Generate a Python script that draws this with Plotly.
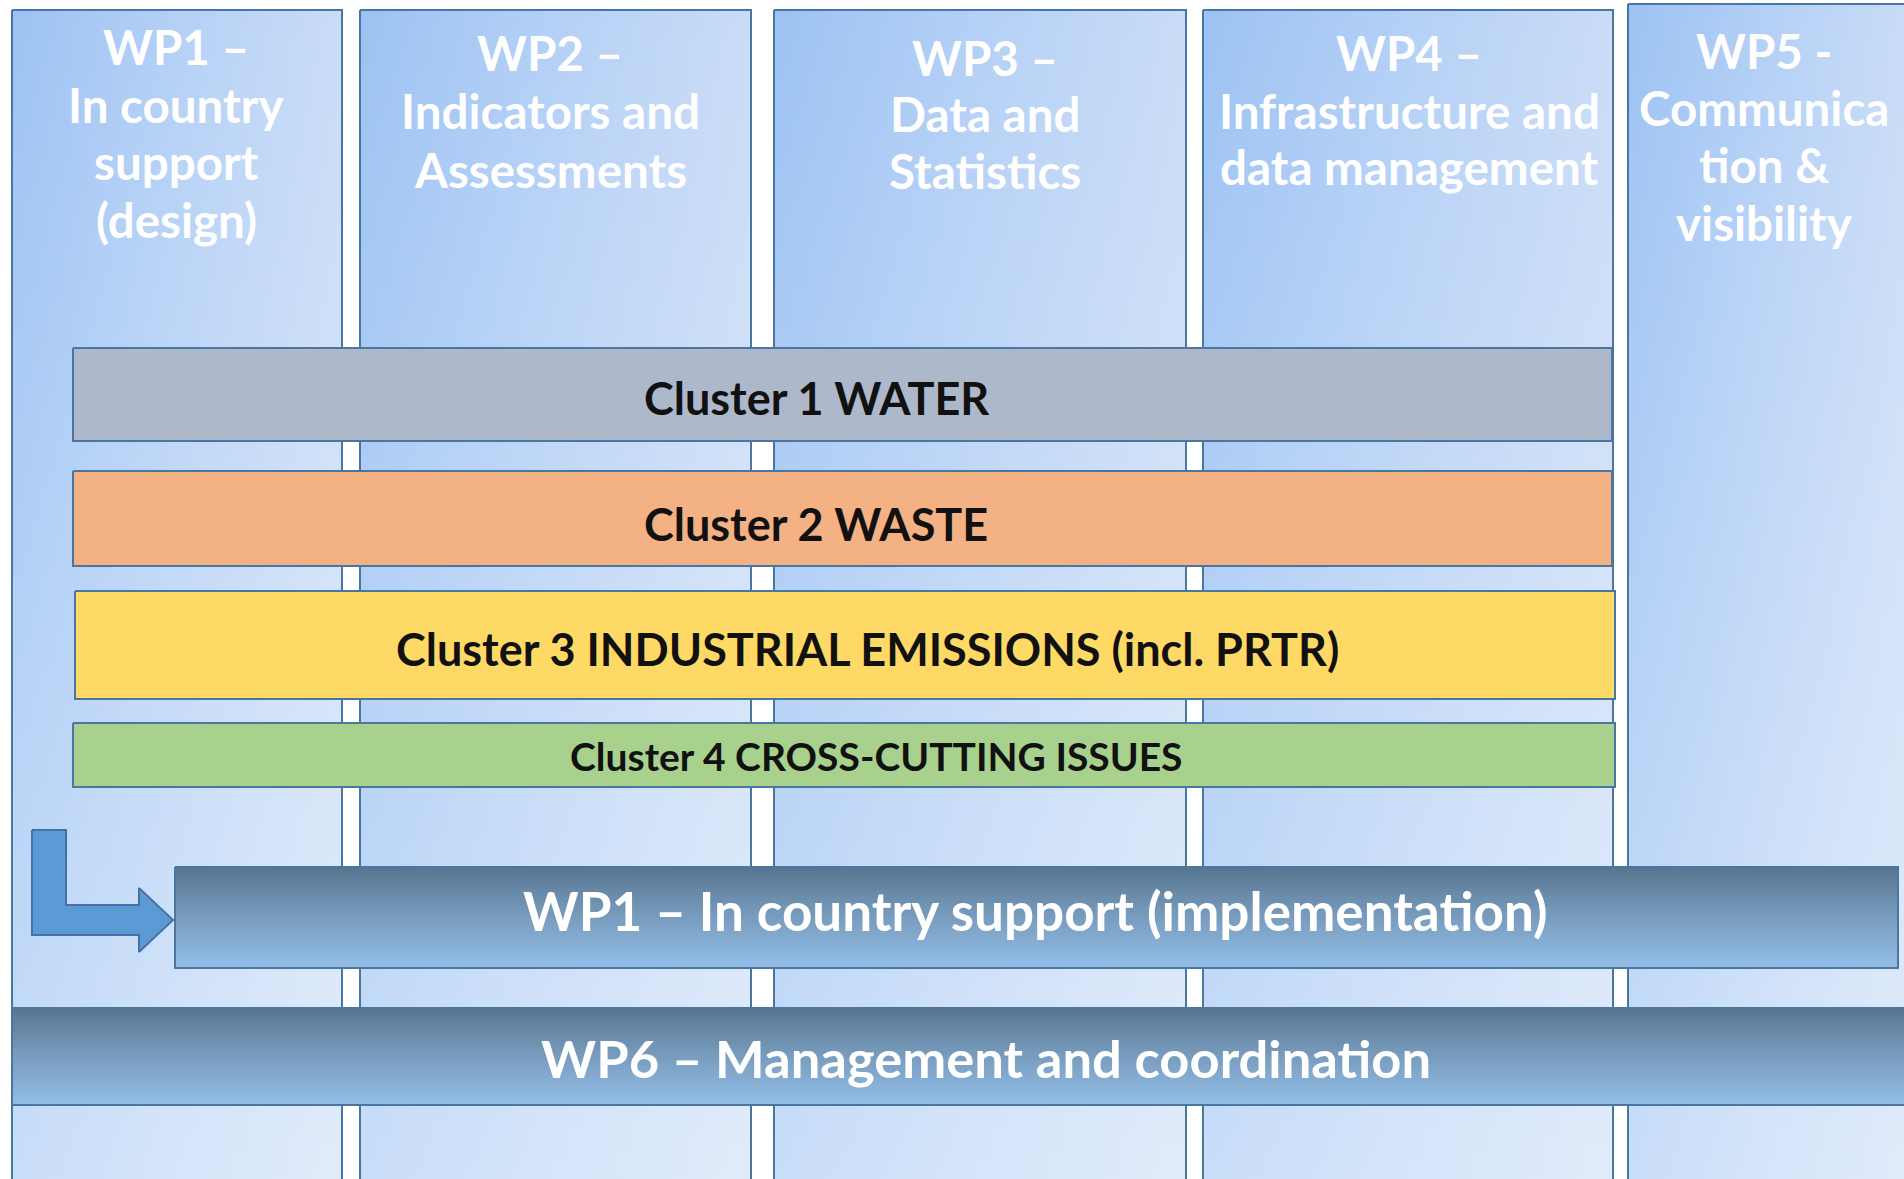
import plotly.graph_objects as go

# ---------------- data ----------------
column_labels = [
    ["WP1 –", "In country", "support", "(design)"],
    ["WP2 –", "Indicators and", "Assessments"],
    ["WP3 –", "Data and", "Statistics"],
    ["WP4 –", "Infrastructure and", "data management"],
    ["WP5 -", "Communica", "tion &", "visibility"],
]
cluster_labels = [
    "Cluster 1 WATER",
    "Cluster 2 WASTE",
    "Cluster 3 INDUSTRIAL EMISSIONS (incl. PRTR)",
    "Cluster 4 CROSS-CUTTING ISSUES",
]
cluster_colors = ["#ADB9CA", "#F4B183", "#FFD966", "#A9D18E"]
bar_labels = ["WP1 – In country support (implementation)",
              "WP6 – Management and coordination"]

# ---------------- geometry (pixels) ----------------
W, H = 1904, 1179
col_x0 = [12, 360, 774, 1203, 1628]
col_x1 = [342, 751, 1186, 1613, 1910]
col_y0 = [10, 10, 10, 10, 4]
col_text_cx = [176, 550, 985, 1409, 1764]
col_text_y = [
    [46, 104, 161, 219],
    [52, 110, 169],
    [57, 113, 170],
    [52, 110, 166],
    [50, 107, 164, 222],
]
cl_x0 = [73, 73, 75, 73]
cl_x1 = [1612, 1612, 1615, 1615]
cl_y0 = [348, 471, 591, 723]
cl_y1 = [441, 566, 699, 787]
cl_text_cx = [817, 816, 867, 876]
cl_text_dy = [3, 5, 4, 1]
cl_font = [45, 45, 45, 39]

bar_x0 = [175, 12]
bar_x1 = [1898, 1912]
bar_y0 = [867, 1008]
bar_y1 = [968, 1105]
bar_text_cx = [1035, 986]
bar_text_y = [910, 1057]
bar_font = [53, 52.5]

BORDER = "#4A76A2"
FONT = "Lato"

fig = go.Figure()


def rect(x0, x1, y0, y1, **kw):
    fig.add_trace(go.Scatter(
        x=[x0, x1, x1, x0, x0], y=[y0, y0, y1, y1, y0],
        mode="lines", fill="toself", hoverinfo="skip", showlegend=False, **kw))


# columns: horizontal gradient, then a vertical whitening overlay
for x0, x1, y0 in zip(col_x0, col_x1, col_y0):
    rect(x0, x1, y0, H + 20,
         line=dict(color=BORDER, width=2),
         fillgradient=dict(type="horizontal", start=x0, stop=x1,
                           colorscale=[[0, "#9CC2F3"], [0.5, "#B4D0F6"], [1, "#C9DCF7"]]))
    rect(x0 + 1, x1 - 1, y0 + 1, H + 20,
         line=dict(width=0),
         fillgradient=dict(type="vertical", start=0, stop=H,
                           colorscale=[[0, "rgba(255,255,255,0)"], [1, "rgba(255,255,255,0.45)"]]))

# clusters
for x0, x1, y0, y1, c in zip(cl_x0, cl_x1, cl_y0, cl_y1, cluster_colors):
    rect(x0, x1, y0, y1, line=dict(color=BORDER, width=2), fillcolor=c)

# arrow (bent)
ax = [32, 66, 66, 139, 139, 173, 139, 139, 32, 32]
ay = [830, 830, 905, 905, 888, 920, 952, 935, 935, 830]
fig.add_trace(go.Scatter(x=ax, y=ay, mode="lines", fill="toself",
                         fillcolor="#5B9BD5", line=dict(color="#4472A8", width=2),
                         hoverinfo="skip", showlegend=False))

# dark gradient bars
for x0, x1, y0, y1 in zip(bar_x0, bar_x1, bar_y0, bar_y1):
    rect(x0, x1, y0, y1, line=dict(color=BORDER, width=2),
         fillgradient=dict(type="vertical", start=y0, stop=y1,
                           colorscale=[[0, "#577590"], [0.45, "#7699BA"], [1, "#93BEE8"]]))

# ---------------- text ----------------
ann = []
for lines, cx, ys in zip(column_labels, col_text_cx, col_text_y):
    for t, y in zip(lines, ys):
        ann.append(dict(x=cx, y=y, text=t, showarrow=False, xref="x", yref="y",
                        font=dict(family=FONT, size=47.5, color="white", weight="bold"),
                        xanchor="center", yanchor="middle"))
for t, cx, y0, y1, dy, fs in zip(cluster_labels, cl_text_cx, cl_y0, cl_y1, cl_text_dy, cl_font):
    ann.append(dict(x=cx, y=(y0 + y1) / 2 + dy, text=t, showarrow=False, xref="x", yref="y",
                    font=dict(family=FONT, size=fs, color="#111111", weight="bold"),
                    xanchor="center", yanchor="middle"))
for t, cx, y, fs in zip(bar_labels, bar_text_cx, bar_text_y, bar_font):
    ann.append(dict(x=cx, y=y, text=t, showarrow=False, xref="x", yref="y",
                    font=dict(family=FONT, size=fs, color="white", weight="bold"),
                    xanchor="center", yanchor="middle"))

fig.update_layout(
    width=W, height=H, margin=dict(l=0, r=0, t=0, b=0),
    paper_bgcolor="white", plot_bgcolor="white",
    xaxis=dict(range=[0, W], visible=False, fixedrange=True),
    yaxis=dict(range=[H, 0], visible=False, fixedrange=True),
    annotations=ann, showlegend=False,
)
fig.write_html("out.html", config={"displayModeBar": False},
               post_script="document.body.style.margin='0px';")
